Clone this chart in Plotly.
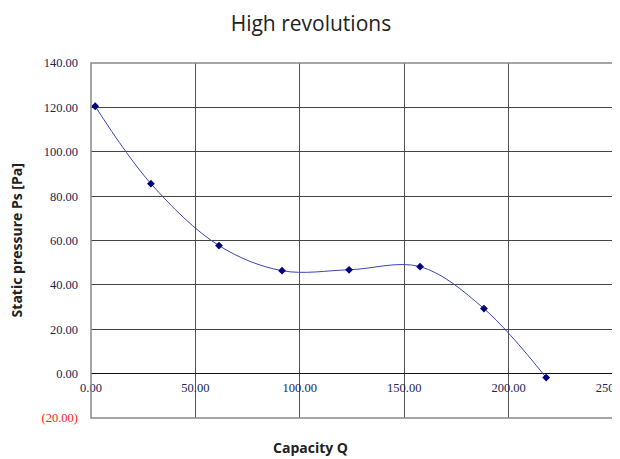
import plotly.graph_objects as go

capacity = [2.0, 28.7, 61.3, 91.5, 123.6, 157.6, 188.2, 218.0]
pressure = [120.5, 85.6, 57.7, 46.4, 46.8, 48.2, 29.3, -1.8]

y_ticks = [-20, 0, 20, 40, 60, 80, 100, 120, 140]
y_labels = ["<span style='color:#ff2020'>(20.00)</span>", "0.00", "20.00", "40.00", "60.00",
            "80.00", "100.00", "120.00", "140.00"]
x_ticks = [0, 50, 100, 150, 200, 250]
x_labels = ["0.00", "50.00", "100.00", "150.00", "200.00", "250.00"]

fig = go.Figure()
fig.add_trace(go.Scatter(
    x=capacity, y=pressure, mode="lines+markers",
    line=dict(color="#3a46b0", width=1, shape="spline", smoothing=1.0),
    marker=dict(symbol="diamond", size=6, color="#000080"),
    showlegend=False, cliponaxis=False))

tick_font = dict(family="Liberation Serif", size=12.5, color="#1c2450")

fig.update_layout(
    width=612, height=451,
    margin=dict(l=83, r=7, t=55, b=41, autoexpand=False),
    paper_bgcolor="white", plot_bgcolor="white",
    title=dict(text="High revolutions", x=0.495, xanchor="center", y=0.966, yanchor="middle",
               font=dict(family="Open Sans", size=21, color="#222")),
    xaxis=dict(range=[0, 250], tickvals=x_ticks, ticktext=x_labels, showgrid=True,
               gridcolor="#555", gridwidth=1, zeroline=False, anchor="free", position=0.125,
               showline=False, ticks="", tickfont=tick_font, ticklabelstandoff=5,
               ticklabeloverflow="allow", automargin=False),
    yaxis=dict(range=[-20, 140], tickvals=y_ticks, ticktext=y_labels, showgrid=True,
               gridcolor="#444", gridwidth=1, zeroline=True, zerolinecolor="#111", zerolinewidth=1,
               showline=False, ticks="", tickfont=tick_font, ticklabelstandoff=12,
               automargin=False),
    annotations=[
        dict(text="<b>Capacity Q</b>", xref="paper", yref="paper", x=0.421, y=-0.082,
             xanchor="center", yanchor="middle", showarrow=False,
             font=dict(family="Open Sans", size=14, color="#222")),
        dict(text="<b>Static pressure Ps [Pa]</b>", xref="paper", yref="paper", x=-0.142, y=0.5,
             xanchor="center", yanchor="middle", showarrow=False, textangle=-90,
             font=dict(family="Open Sans", size=14, color="#222")),
    ],
)
fig.add_shape(type="rect", xref="paper", yref="paper", x0=0, x1=1, y0=0, y1=1,
              line=dict(color="#888", width=1.5), layer="above")
fig.write_html("out.html")
